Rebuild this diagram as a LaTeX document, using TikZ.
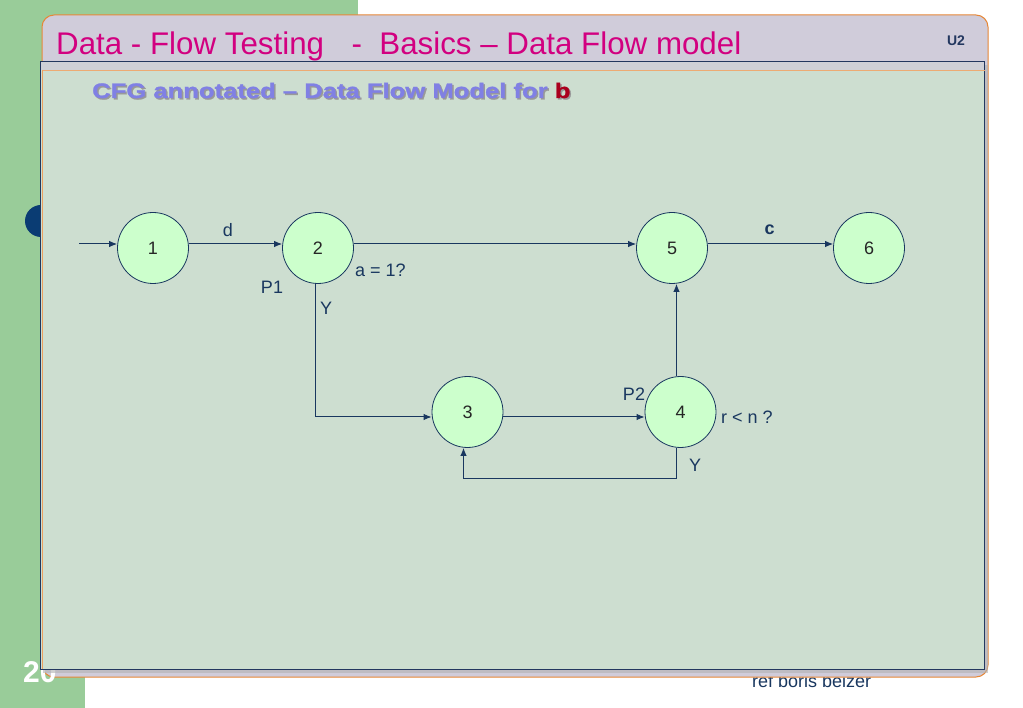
\documentclass[tikz,border=0pt]{standalone}
\usepackage{fontspec}
\setmainfont{Liberation Sans}
\newfontfamily\subfont[FakeStretch=1.22,FakeBold=1.2]{Liberation Sans}
\usetikzlibrary{arrows.meta}
\definecolor{stripgreen}{RGB}{153,204,153}
\definecolor{lavender}{RGB}{208,204,218}
\definecolor{panel}{RGB}{205,222,208}
\definecolor{frameorange}{RGB}{230,135,55}
\definecolor{framenavy}{RGB}{35,55,95}
\definecolor{nodefill}{RGB}{204,255,204}
\definecolor{edgeblue}{RGB}{25,55,95}
\definecolor{titlemag}{RGB}{210,0,128}
\definecolor{subblue}{RGB}{128,128,228}
\definecolor{subred}{RGB}{170,0,30}
\definecolor{diskblue}{RGB}{10,60,115}
\begin{document}
\begin{tikzpicture}[x=1pt,y=-1pt,
  state/.style={circle,draw=edgeblue,line width=0.8pt,fill=nodefill,minimum size=71pt,inner sep=0pt,font=\fontsize{18}{20}\selectfont,text=black!85},
  edge/.style={draw=edgeblue,line width=1pt,-{Latex[length=8pt,width=6.5pt]}},
  lbl/.style={inner sep=0pt,font=\fontsize{18}{20}\selectfont,text=edgeblue}]
\useasboundingbox (0,0) rectangle (1023,708);
\fill[white] (0,0) rectangle (1023,708);
\fill[stripgreen] (0,0) rectangle (358,15);
\fill[stripgreen] (0,0) rectangle (85,708);
\fill[diskblue] (41,221) circle[radius=16pt];
\node[anchor=base west,inner sep=0pt,text=edgeblue,font=\fontsize{18}{20}\selectfont] (ref) at (752,687) {ref boris beizer};
\draw[frameorange,line width=1pt,fill=lavender,rounded corners=12pt] (42,15) rectangle (988,677);
\node[anchor=base west,inner sep=0pt,text=white,font=\fontsize{30}{32}\selectfont\bfseries] (num) at (23,682) {20};
\fill[black!30,opacity=0.6] (43,65) rectangle (988,673);
\draw[framenavy,line width=1pt,fill=panel] (40,62) rectangle (984,669);
\fill[lavender,opacity=0.75] (40.5,62.5) rectangle (983.5,70);
\draw[frameorange!70,line width=0.8pt] (42,70) -- (985,70);
\draw[frameorange!80,line width=0.8pt] (42,70) -- (42,669);
% title
\node[anchor=base west,inner sep=0pt,text=titlemag,font=\fontsize{31.3}{34}\selectfont] (title) at (56,55) {Data - Flow Testing\hspace{27.5pt}-\hspace{17.5pt}Basics – Data Flow model};
\node[inner sep=0pt,text=framenavy,font=\fontsize{14}{16}\selectfont\bfseries] (u2) at (956,41) {U2};
% subtitle
\node[anchor=base west,inner sep=0pt,text=black!40,font=\fontsize{21}{24}\subfont\bfseries] (subsh) at (93.5,99.5) {CFG annotated – Data Flow Model for b};
\node[anchor=base west,inner sep=0pt,text=subblue,font=\fontsize{21}{24}\subfont\bfseries] (sub) at (92,98) {CFG annotated – Data Flow Model for \textcolor{subred}{b}};
% nodes
\node[state] (n1) at (153,248) {1};
\node[state] (n2) at (318,248) {2};
\node[state] (n5) at (672,248) {5};
\node[state] (n6) at (869,248) {6};
\node[state] (n3) at (467.5,412) {3};
\node[state] (n4) at (680.5,412) {4};
\coordinate (in) at (79,244);
% edges
\draw[edge] (in) -- ([yshift=4pt]n1.west);
\draw[edge] ([yshift=4pt]n1.east) -- ([yshift=4pt]n2.west);
\draw[edge] ([yshift=4pt]n2.east) -- ([yshift=4pt]n5.west);
\draw[edge] ([yshift=4pt]n5.east) -- ([yshift=4pt]n6.west);
\draw[edge] ([xshift=-3pt]n2.south) |- ([yshift=-5pt]n3.west);
\draw[edge] ([yshift=-5pt]n3.east) -- ([yshift=-5pt]n4.west);
\draw[edge] ([xshift=-4pt]n4.north) -- ([xshift=-4pt]n4.north |- n5.south);
\draw[edge] ([xshift=-4pt]n4.south) -- ++(0,31) -| ([xshift=-4pt]n3.south);
% labels
\node[lbl] (ld) at (228,230) {d};
\node[lbl,font=\fontsize{18}{20}\selectfont\bfseries] (lc) at (769.5,230) {c};
\node[lbl,anchor=west] (la) at (355,270) {a = 1?};
\node[lbl] (lp1) at (272,287) {P1};
\node[lbl] (ly1) at (326,308) {Y};
\node[lbl] (lp2) at (634,394) {P2};
\node[lbl,anchor=west] (lr) at (721,417) {r < n ?};
\node[lbl] (ly2) at (695,465) {Y};
\end{tikzpicture}
\end{document}
